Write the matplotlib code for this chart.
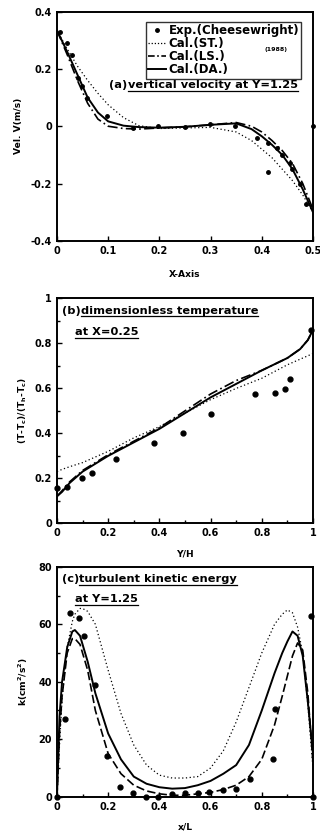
import numpy as np
import matplotlib
matplotlib.use('Agg')
import matplotlib.pyplot as plt
from matplotlib.ticker import MultipleLocator
from matplotlib.lines import Line2D

plt.rcParams['font.family'] = ['DejaVu Sans']
plt.rcParams['font.weight'] = 'bold'
plt.rcParams['mathtext.default'] = 'bf'

# (a) vertical velocity at Y=1.25
a_exp_x = [0.006, 0.02, 0.03, 0.042, 0.049, 0.058, 0.097, 0.149, 0.198, 0.25, 0.299, 0.347,
           0.39, 0.412, 0.43, 0.44, 0.455, 0.46, 0.474, 0.487, 0.5, 0.412]
a_exp_v = [0.33, 0.29, 0.25, 0.17, 0.14, 0.10, 0.035, -0.006, 0.0, -0.003, 0.008, 0.002,
           -0.04, -0.058, -0.075, -0.10, -0.13, -0.15, -0.20, -0.27, 0.0, -0.16]
a_x = [0.0, 0.02, 0.04, 0.06, 0.08, 0.10, 0.13, 0.16, 0.20, 0.25, 0.30, 0.35, 0.38, 0.40, 0.42,
       0.44, 0.46, 0.48, 0.50]
a_st = [0.335, 0.27, 0.21, 0.16, 0.115, 0.075, 0.03, 0.002, -0.008, -0.006, -0.004, -0.02, -0.05,
        -0.08, -0.11, -0.15, -0.19, -0.24, -0.30]
a_ls = [0.335, 0.25, 0.16, 0.08, 0.025, 0.0, -0.008, -0.01, -0.006, -0.002, 0.005, 0.013, 0.0,
        -0.02, -0.05, -0.085, -0.13, -0.2, -0.29]
a_da = [0.335, 0.26, 0.18, 0.10, 0.048, 0.017, 0.002, -0.003, -0.005, -0.002, 0.005, 0.01, -0.01,
        -0.035, -0.065, -0.10, -0.15, -0.22, -0.30]

# (b) dimensionless temperature at X=0.25
b_exp_x = [0.0, 0.039, 0.097, 0.136, 0.231, 0.379, 0.491, 0.60, 0.773, 0.852, 0.892, 0.912, 0.994]
b_exp_t = [0.156, 0.163, 0.20, 0.225, 0.286, 0.358, 0.40, 0.484, 0.573, 0.58, 0.597, 0.641, 0.859]
b_x = [0.0, 0.02, 0.05, 0.1, 0.2, 0.3, 0.4, 0.5, 0.6, 0.7, 0.8, 0.9, 0.95, 0.98, 1.0]
b_st = [0.23, 0.24, 0.252, 0.27, 0.32, 0.38, 0.43, 0.49, 0.55, 0.6, 0.645, 0.705, 0.73,
        0.745, 0.755]
b_ls = [0.12, 0.145, 0.185, 0.235, 0.305, 0.365, 0.425, 0.5, 0.575, 0.635, 0.68, 0.735, 0.775,
        0.815, 0.86]
b_da = [0.12, 0.14, 0.18, 0.23, 0.30, 0.36, 0.42, 0.49, 0.56, 0.62, 0.68, 0.735, 0.775,
        0.815, 0.86]

# (c) turbulent kinetic energy at Y=1.25
c_exp_x = [0.0, 0.03, 0.052, 0.085, 0.105, 0.148, 0.196, 0.246, 0.298, 0.346, 0.395, 0.45, 0.5,
           0.55, 0.595, 0.65, 0.70, 0.756, 0.843, 0.852, 0.993, 1.0]
c_exp_k = [0.0, 26.9, 64.0, 62.3, 55.9, 38.7, 14.1, 3.5, 1.4, 0.0, 0.0, 1.0, 1.2, 1.4, 1.6, 2.3,
           2.8, 6.0, 13.2, 30.6, 62.8, 0.0]
c_x = [0.0, 0.01, 0.02, 0.04, 0.06, 0.07, 0.09, 0.10, 0.12, 0.15, 0.20, 0.25, 0.30, 0.35, 0.40,
       0.45, 0.50, 0.55, 0.60, 0.65, 0.70, 0.75, 0.80, 0.85, 0.88, 0.90, 0.92, 0.94, 0.96, 0.98, 1.0]
c_st = [0.0, 18, 34, 52, 61, 63.5, 65.5, 65.5, 64.5, 60, 44, 29, 18, 11, 7.5, 6.5, 6.5, 7, 10, 16,
        26, 38, 50, 60, 63.5, 65, 64, 59, 50, 32, 10]
c_ls = [0.0, 22, 35, 50, 55, 55, 53, 50, 44, 30, 15, 8, 4, 2, 1, 0.5, 0.5, 1, 1.5, 2.5, 4, 7, 13,
        25, 35, 42, 49, 53.5, 51, 36, 12]
c_da = [0.0, 28, 40, 52, 57.5, 58, 56, 53, 47, 36, 22, 13, 7, 4.5, 3.3, 2.8, 3.0, 4, 5.5, 8, 11,
        18, 30, 43, 50, 54, 57.5, 56, 49, 33, 15]

fig = plt.figure(figsize=(3.2, 8.36), dpi=100)
axA = fig.add_axes([0.178, 0.712, 0.8, 0.274])
axB = fig.add_axes([0.178, 0.374, 0.8, 0.269])
axC = fig.add_axes([0.178, 0.047, 0.8, 0.275])

FS = 7          # tick labels
TFS = 8.2       # panel titles
LFS = 6.6       # axis labels


def style(ax):
    for s in ax.spines.values():
        s.set_linewidth(1.4)
    ax.tick_params(which='both', direction='in', labelsize=FS, width=1.0, top=False, right=False)
    ax.tick_params(which='major', length=3.5)
    ax.tick_params(which='minor', length=2)
    for lab in ax.get_xticklabels() + ax.get_yticklabels():
        lab.set_fontweight('bold')


def underlined(ax, x, y, prefix, body):
    r = fig.canvas.get_renderer()
    x_body = x
    if prefix:
        t1 = ax.text(x, y, prefix, transform=ax.transAxes, fontsize=TFS, fontweight='bold',
                     va='baseline', ha='left')
        bb = t1.get_window_extent(r).transformed(ax.transAxes.inverted())
        x_body = bb.x1
    t2 = ax.text(x_body, y, body, transform=ax.transAxes, fontsize=TFS, fontweight='bold',
                 va='baseline', ha='left')
    bb2 = t2.get_window_extent(r).transformed(ax.transAxes.inverted())
    ax.plot([bb2.x0, bb2.x1], [y - 0.012, y - 0.012], color='k', lw=0.9,
            transform=ax.transAxes, clip_on=False)


# panel (a)
axA.plot(a_x, a_st, color='k', ls=(0, (1, 2)), lw=0.9)
axA.plot(a_x, a_ls, color='k', ls=(0, (6, 2, 1, 2)), lw=1.2)
axA.plot(a_x, a_da, color='k', ls='-', lw=1.4)
axA.plot(a_exp_x, a_exp_v, 'ko', ms=2.5, ls='none', clip_on=False)
axA.set_xlim(0, 0.5)
axA.set_ylim(-0.4, 0.4)
axA.set_xticks([0, 0.1, 0.2, 0.3, 0.4, 0.5], ['0', '0.1', '0.2', '0.3', '0.4', '0.5'])
axA.set_yticks([-0.4, -0.2, 0, 0.2, 0.4], ['-0.4', '-0.2', '0', '0.2', '0.4'])
axA.set_xlabel('X-Axis', fontsize=LFS, fontweight='bold', labelpad=10)
axA.set_ylabel('Vel. V(m/s)', fontsize=LFS, fontweight='bold', labelpad=6)
style(axA)

handles = [Line2D([], [], color='k', marker='o', ms=2.5, ls='none'),
           Line2D([], [], color='k', ls=(0, (1, 1.5)), lw=0.9),
           Line2D([], [], color='k', ls=(0, (4, 1.5, 1, 1.5)), lw=1.2),
           Line2D([], [], color='k', ls='-', lw=1.4)]
labels = ['Exp.(Cheesewright)', 'Cal.(ST.)', 'Cal.(LS.)', 'Cal.(DA.)']
leg = axA.legend(handles, labels, loc='upper right', bbox_to_anchor=(0.955, 0.955),
                 handlelength=1.5, handletextpad=0.2, labelspacing=0.0,
                 borderpad=0.2, borderaxespad=0, frameon=True, fancybox=False,
                 prop={'weight': 'bold', 'size': 8.5})
leg.get_frame().set_edgecolor('k')
leg.get_frame().set_linewidth(1.0)
leg.set_zorder(5)
axA.text(0.9, 0.835, '(1988)', transform=axA.transAxes, fontsize=4.5, fontweight='bold',
         ha='right', va='center', zorder=6)

fig.canvas.draw()
underlined(axA, 0.205, 0.665, '(a)', 'vertical velocity at Y=1.25')

# panel (b)
axB.plot(b_x, b_st, color='k', ls=(0, (1, 2)), lw=0.9)
axB.plot(b_x, b_ls, color='k', ls=(0, (6, 2, 1, 2)), lw=1.2)
axB.plot(b_x, b_da, color='k', ls='-', lw=1.4)
axB.plot(b_exp_x, b_exp_t, 'ko', ms=3.5, ls='none', clip_on=False)
axB.set_xlim(0, 1)
axB.set_ylim(0, 1)
axB.set_xticks([0, 0.2, 0.4, 0.6, 0.8, 1], ['0', '0.2', '0.4', '0.6', '0.8', '1'])
axB.set_yticks([0, 0.2, 0.4, 0.6, 0.8, 1], ['0', '0.2', '0.4', '0.6', '0.8', '1'])
axB.xaxis.set_minor_locator(MultipleLocator(0.1))
axB.yaxis.set_minor_locator(MultipleLocator(0.1))
axB.set_xlabel('Y/H', fontsize=LFS, fontweight='bold', labelpad=8)
axB.set_ylabel('(T-T$_c$)/(T$_h$-T$_c$)', fontsize=LFS, fontweight='bold', labelpad=4)
style(axB)
underlined(axB, 0.02, 0.933, '(b)', 'dimensionless temperature')
underlined(axB, 0.07, 0.836, '', 'at X=0.25')

# panel (c)
axC.plot(c_x, c_st, color='k', ls=(0, (1, 2)), lw=0.9)
axC.plot(c_x, c_ls, color='k', ls=(0, (5, 2)), lw=1.2)
axC.plot(c_x, c_da, color='k', ls='-', lw=1.4)
axC.plot(c_exp_x, c_exp_k, 'ko', ms=3.5, ls='none', clip_on=False)
axC.set_xlim(0, 1)
axC.set_ylim(0, 80)
axC.set_xticks([0, 0.2, 0.4, 0.6, 0.8, 1], ['0', '0.2', '0.4', '0.6', '0.8', '1'])
axC.set_yticks([0, 20, 40, 60, 80])
axC.xaxis.set_minor_locator(MultipleLocator(0.1))
axC.yaxis.set_minor_locator(MultipleLocator(10))
axC.set_xlabel('x/L', fontsize=LFS, fontweight='bold', labelpad=8)
axC.set_ylabel('k(cm$^2$/s$^2$)', fontsize=LFS, fontweight='bold', labelpad=6)
style(axC)
underlined(axC, 0.02, 0.935, '(c)', 'turbulent kinetic energy')
underlined(axC, 0.07, 0.848, '', 'at Y=1.25')

fig.savefig('out.png', dpi=100)
